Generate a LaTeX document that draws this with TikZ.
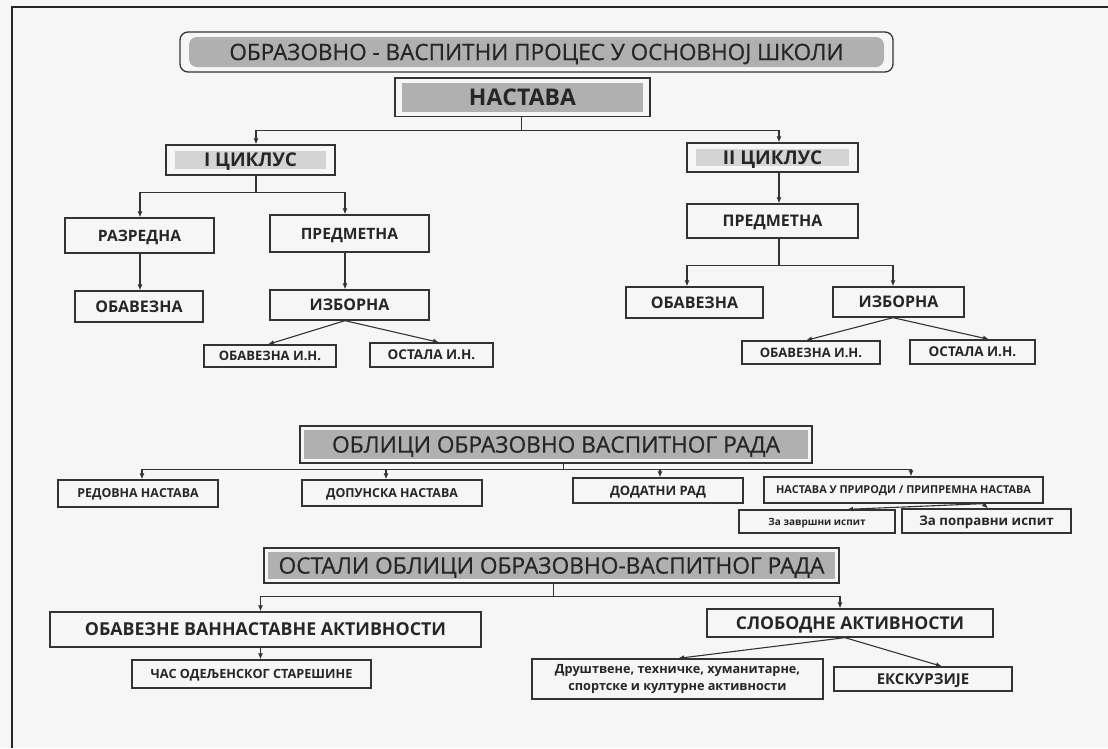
\documentclass[tikz,border=0pt]{standalone}
\usepackage{fontspec}
\setmainfont{Open Sans}
\newfontfamily\headfont{Open Sans}[FakeBold=0.6]
\usetikzlibrary{arrows.meta,calc}
\definecolor{bgc}{HTML}{F6F6F6}
\definecolor{linec}{HTML}{333333}
\definecolor{txtc}{HTML}{262626}
\definecolor{shadeA}{HTML}{B0B0B0}
\definecolor{shadeB}{HTML}{D4D4D4}
\begin{document}
\begin{tikzpicture}[x=1pt,y=-1pt,
  box/.style={draw=linec, line width=1.3pt, fill=bgc, inner sep=0pt, align=center, text=txtc},
  fsb/.code={\pgfmathsetmacro\mycapht{0.714*#1}\tikzset{font=\bfseries\fontsize{#1}{#1}\selectfont, text height=\mycapht pt, text depth=0pt}},
  fsh/.code={\pgfmathsetmacro\mycapht{0.714*#1}\tikzset{font=\headfont\fontsize{#1}{#1}\selectfont, text height=\mycapht pt, text depth=0pt}},
  shade/.style 2 args={path picture={\fill[#1] ($(path picture bounding box.south west)+(#2)$) rectangle ($(path picture bounding box.north east)-(#2)$);}},
  conn/.style={draw=linec, line width=1.1pt},
  arr/.style={conn, -{Latex[length=6pt,width=5pt]}}
]
\fill[bgc] (0,0) rectangle (1108,748);
\useasboundingbox (0,0) rectangle (1108,748);
\draw[line width=2.5pt, black!85] (11.8,748) -- (11.8,7) -- (1108,7);

% title
\node[box, fsh=22.5, rounded corners=8pt, minimum width=713pt, minimum height=40pt, shade={shadeA}{9pt,5pt}]
  (title) at (536.5,52) {ОБРАЗОВНО - ВАСПИТНИ ПРОЦЕС У ОСНОВНОЈ ШКОЛИ};

\node[box, fsb=23, shade={shadeA}{7pt,5pt}, minimum width=255pt, minimum height=38.5pt] (nast) at (522.5,97.25) {НАСТАВА};

\node[box, fsb=19, shade={shadeB}{9pt,6pt}, minimum width=169pt, minimum height=30pt] (c1) at (250.5,160) {I ЦИКЛУС};
\node[box, fsb=19, shade={shadeB}{9pt,6pt}, minimum width=171pt, minimum height=29pt] (c2) at (772.5,157.5) {II ЦИКЛУС};

\node[box, fsb=15.6, minimum width=149pt, minimum height=35pt] (razr) at (139.5,235.5) {РАЗРЕДНА};
\node[box, fsb=15.6, minimum width=159pt, minimum height=37pt] (pred1) at (349.5,233.5) {ПРЕДМЕТНА};
\node[box, fsb=16, minimum width=128pt, minimum height=31pt] (obav1) at (139,306.5) {ОБАВЕЗНА};
\node[box, fsb=16, minimum width=159pt, minimum height=30pt] (izb1) at (349.5,305) {ИЗБОРНА};
\node[box, fsb=13, minimum width=132pt, minimum height=22pt] (oin1) at (270,356) {ОБАВЕЗНА И.Н.};
\node[box, fsb=13.5, minimum width=123pt, minimum height=24pt] (oth1) at (431.5,355) {ОСТАЛА И.Н.};

\node[box, fsb=16, minimum width=171pt, minimum height=34pt] (pred2) at (772.5,221) {ПРЕДМЕТНА};
\node[box, fsb=16, minimum width=137pt, minimum height=31pt] (obav2) at (694.5,302.5) {ОБАВЕЗНА};
\node[box, fsb=16, minimum width=131pt, minimum height=30pt] (izb2) at (898.5,302) {ИЗБОРНА};
\node[box, fsb=13, minimum width=138pt, minimum height=23pt] (oin2) at (811,352.5) {ОБАВЕЗНА И.Н.};
\node[box, fsb=13.5, minimum width=125pt, minimum height=24pt] (oth2) at (972.5,352) {ОСТАЛА И.Н.};

% oblici
\node[box, fsh=22.7, shade={shadeA}{4pt,4pt}, minimum width=512pt, minimum height=37pt] (obl) at (556,444.5) {ОБЛИЦИ ОБРАЗОВНО ВАСПИТНОГ РАДА};
\node[box, fsb=12.4, minimum width=160pt, minimum height=27pt] (red) at (138,493.5) {РЕДОВНА НАСТАВА};
\node[box, fsb=12.4, minimum width=180pt, minimum height=26pt] (dop) at (392,493) {ДОПУНСКА НАСТАВА};
\node[box, fsb=13, minimum width=170pt, minimum height=25pt] (dod) at (658,490.5) {ДОДАТНИ РАД};
\node[box, fsb=10.9, minimum width=279pt, minimum height=26pt] (npr) at (903.5,490) {НАСТАВА У ПРИРОДИ / ПРИПРЕМНА НАСТАВА};
\node[box, fsb=10, minimum width=156pt, minimum height=23pt] (zav) at (817,521.5) {За завршни испит};
\node[box, fsb=13.3, minimum width=169pt, minimum height=24pt] (pop) at (986.5,521) {За поправни испит};

% ostali
\node[box, fsh=22.7, shade={shadeA}{4pt,4pt}, minimum width=575pt, minimum height=35pt] (ost) at (551.5,565.5) {ОСТАЛИ ОБЛИЦИ ОБРАЗОВНО-ВАСПИТНОГ РАДА};
\node[box, fsb=17.8, minimum width=431pt, minimum height=35pt] (ovan) at (265.5,629.5) {ОБАВЕЗНЕ ВАННАСТАВНЕ АКТИВНОСТИ};
\node[box, fsb=12.7, minimum width=239pt, minimum height=28pt] (chas) at (251.5,674) {ЧАС ОДЕЉЕНСКОГ СТАРЕШИНЕ};
\node[box, fsb=17.6, minimum width=286pt, minimum height=28pt] (slob) at (850,623) {СЛОБОДНЕ АКТИВНОСТИ};
\node[box, font=\bfseries\fontsize{12.7}{17}\selectfont, minimum width=291pt, minimum height=40pt] (drus) at (677.5,679) {Друштвене, техничке, хуманитарне,\\спортске и културне активности};
\node[box, fsb=15, minimum width=178pt, minimum height=24pt] (eks) at (923,679) {ЕКСКУРЗИЈЕ};

% connectors
\draw[arr] ([xshift=-1pt]nast.south) -- ++(0,13.5) -| ([xshift=5.5pt]c1.north);
\draw[arr] ([xshift=-1pt]nast.south) -- ++(0,13.5) -| ([xshift=6.5pt]c2.north);

\draw[arr] ([xshift=5.5pt]c1.south) -- ++(0,17) -| ([xshift=0.5pt]razr.north);
\draw[arr] ([xshift=5.5pt]c1.south) -- ++(0,17) -| ([xshift=-4.5pt]pred1.north);
\draw[arr] ([xshift=0.5pt]razr.south) -- ([xshift=1pt]obav1.north);
\draw[arr] ([xshift=-4.5pt]pred1.south) -- ([xshift=-4.5pt]izb1.north);
\draw[arr] ([xshift=-4.5pt]izb1.south) -- ([xshift=-2pt]oin1.north);
\draw[arr] ([xshift=-4.5pt]izb1.south) -- ([xshift=7.5pt]oth1.north);

\draw[arr] ([xshift=6.5pt]c2.south) -- ([xshift=6.5pt]pred2.north);
\draw[arr] ([xshift=6.5pt]pred2.south) -- ++(0,27) -| ([xshift=-7.5pt]obav2.north);
\draw[arr] ([xshift=6.5pt]pred2.south) -- ++(0,27) -| ([xshift=-5.5pt]izb2.north);
\draw[arr] ([xshift=-5.5pt]izb2.south) -- ([xshift=-5pt]oin2.north);
\draw[arr] ([xshift=-5.5pt]izb2.south) -- ([xshift=16.5pt]oth2.north);

\draw[arr] ([xshift=7.5pt]obl.south) -- ++(0,6) -| ([xshift=4pt]red.north);
\draw[arr] ([xshift=7.5pt]obl.south) -- ++(0,6) -| ([xshift=-6pt]dop.north);
\draw[arr] ([xshift=7.5pt]obl.south) -- ++(0,6) -| ([xshift=2pt]dod.north);
\draw[arr] ([xshift=7.5pt]obl.south) -- ++(0,6) -| ([xshift=7.5pt]npr.north);
\draw[arr] ([xshift=79.5pt]npr.south) -- ([xshift=30pt]zav.north);
\draw[arr] ([xshift=79.5pt]npr.south) -- ([xshift=1.5pt]pop.north);

\draw[arr] ([xshift=2pt]ost.south) -- ++(0,13) -| ([xshift=-5pt]ovan.north);
\draw[arr] ([xshift=2pt]ost.south) -- ++(0,13) -| ([xshift=-10pt]slob.north);
\draw[arr] ([xshift=-5pt]ovan.south) -- ([xshift=9pt]chas.north);
\draw[arr] ([xshift=-5pt]slob.south) -- ([xshift=0.5pt]drus.north);
\draw[arr] ([xshift=-5pt]slob.south) -- ([xshift=19pt]eks.north);
\end{tikzpicture}
\end{document}
